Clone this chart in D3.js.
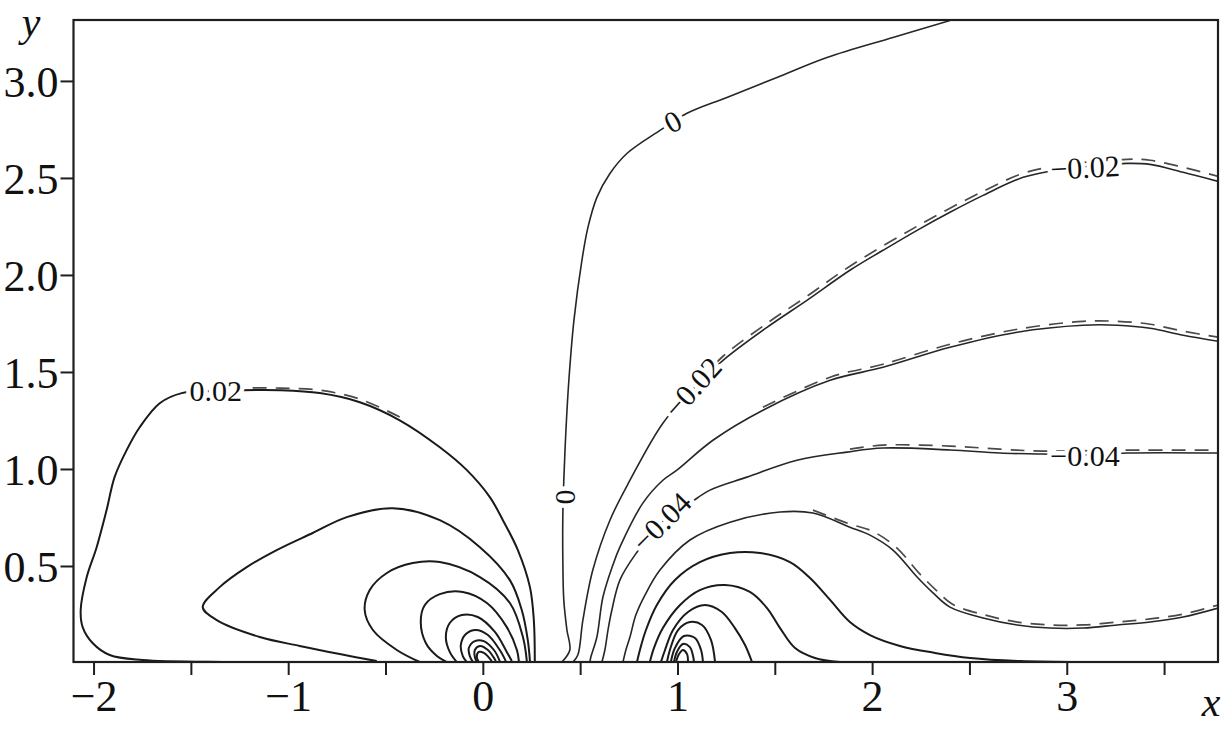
<!DOCTYPE html>
<html><head><meta charset="utf-8">
<script src="https://cdn.jsdelivr.net/npm/d3@7"></script>
<style>body{margin:0;background:#fff} svg{display:block}</style>
</head><body>
<svg id="c" width="1223" height="729"></svg>
<script>
// ---- tick data ----
const xTickValues = [-2,-1.5,-1,-0.5,0,0.5,1,1.5,2,2.5,3,3.5];
const xTickLabels = ["−2","","−1","","0","","1","","2","","3",""];
const yTickValues = [0.5,1,1.5,2,2.5,3];
const yTickLabels = ["0.5","1.0","1.5","2.0","2.5","3.0"];

// ---- positive contours (around x = 0) ----
const posA = [[0.267,0.010],[0.262,0.221],[0.242,0.391],[0.180,0.582],[0.103,0.736],[0.036,0.855],[-0.082,0.994],[-0.221,1.112],[-0.427,1.251],[-0.632,1.344],[-0.838,1.391],[-1.043,1.406],[-1.234,1.406],[-1.372,1.401],[-1.547,1.391],[-1.660,1.339],[-1.763,1.215],[-1.830,1.097],[-1.892,0.958],[-1.933,0.788],[-1.984,0.597],[-2.035,0.443],[-2.066,0.273],[-2.056,0.185],[-2.005,0.103],[-1.917,0.041],[-1.748,0.015],[-1.316,0.005],[-1.146,0.003]];
const posB = [[0.242,0.010],[0.231,0.118],[0.200,0.273],[0.139,0.427],[-0.015,0.597],[-0.221,0.736],[-0.463,0.798],[-0.699,0.752],[-0.874,0.670],[-1.059,0.582],[-1.213,0.494],[-1.352,0.391],[-1.439,0.288],[-1.367,0.221],[-1.146,0.134],[-0.941,0.088],[-0.735,0.046],[-0.545,0.010]];
const posC = [[0.226,0.010],[0.206,0.134],[0.139,0.309],[-0.015,0.443],[-0.221,0.520],[-0.360,0.515],[-0.493,0.464],[-0.581,0.376],[-0.607,0.273],[-0.565,0.170],[-0.442,0.067],[-0.324,0.005]];
const posD = [[0.185,0.010],[0.175,0.067],[0.123,0.185],[0.021,0.309],[-0.103,0.366],[-0.221,0.355],[-0.298,0.299],[-0.319,0.211],[-0.293,0.103],[-0.236,0.036],[-0.185,0.005]];
const posE = [[0.149,0.010],[0.123,0.057],[0.062,0.160],[-0.026,0.237],[-0.108,0.247],[-0.170,0.206],[-0.190,0.134],[-0.170,0.057],[-0.134,0.005]];
const posF = [[0.118,0.010],[0.087,0.067],[0.026,0.144],[-0.036,0.170],[-0.087,0.149],[-0.113,0.093],[-0.103,0.036],[-0.082,0.005]];
const posG = [[0.087,0.010],[0.057,0.067],[0.005,0.113],[-0.041,0.113],[-0.072,0.077],[-0.067,0.036],[-0.051,0.005]];
const posH = [[0.067,0.010],[0.026,0.067],[-0.015,0.088],[-0.041,0.067],[-0.041,0.031],[-0.031,0.005]];
const posI = [[0.046,0.010],[0.005,0.052],[-0.021,0.057],[-0.031,0.031],[-0.021,0.005]];

// ---- zero contour ----
const zero = [[0.406,0.005],[0.447,0.067],[0.432,0.170],[0.416,0.324],[0.411,0.530],[0.411,0.762],[0.416,0.942],[0.427,1.200],[0.442,1.457],[0.468,1.766],[0.509,2.075],[0.540,2.245],[0.586,2.400],[0.653,2.523],[0.740,2.626],[0.910,2.745],[1.049,2.833],[1.254,2.915],[1.511,3.018],[1.768,3.121],[2.107,3.224],[2.400,3.311]];

// ---- negative contours (around x = 1) ----
const negA = [[0.463,0.005],[0.488,0.041],[0.514,0.221],[0.565,0.479],[0.653,0.736],[0.756,0.942],[0.925,1.236],[1.074,1.406],[1.234,1.560],[1.460,1.730],[1.665,1.869],[1.886,2.024],[2.056,2.127],[2.231,2.230],[2.400,2.323],[2.570,2.410],[2.776,2.503],[2.966,2.544],[3.120,2.560],[3.310,2.575],[3.428,2.570],[3.598,2.529],[3.778,2.482]];
const negB = [[0.550,0.005],[0.555,0.031],[0.586,0.134],[0.617,0.340],[0.668,0.505],[0.704,0.597],[0.822,0.824],[0.925,0.942],[0.997,0.994],[1.182,1.148],[1.439,1.303],[1.784,1.457],[2.056,1.524],[2.400,1.627],[2.745,1.705],[3.084,1.741],[3.259,1.741],[3.428,1.725],[3.598,1.689],[3.778,1.658]];
const negC = [[0.612,0.005],[0.627,0.067],[0.643,0.170],[0.663,0.273],[0.704,0.427],[0.781,0.556],[0.920,0.726],[1.064,0.824],[1.167,0.891],[1.357,0.958],[1.614,1.045],[1.871,1.087],[2.056,1.108],[2.400,1.098],[2.657,1.082],[2.878,1.077],[3.094,1.072],[3.310,1.082],[3.778,1.082]];
const negD = [[0.720,0.005],[0.735,0.067],[0.756,0.134],[0.786,0.247],[0.833,0.350],[0.910,0.479],[1.064,0.634],[1.270,0.726],[1.527,0.778],[1.696,0.773],[1.886,0.700],[1.989,0.659],[2.107,0.582],[2.231,0.443],[2.313,0.361],[2.400,0.288],[2.570,0.232],[2.745,0.196],[2.914,0.180],[3.084,0.180],[3.259,0.196],[3.428,0.211],[3.598,0.237],[3.778,0.283]];
const negE = [[0.792,0.005],[0.807,0.067],[0.838,0.170],[0.894,0.299],[0.987,0.428],[1.115,0.520],[1.270,0.567],[1.424,0.567],[1.578,0.520],[1.681,0.438],[1.784,0.325],[1.886,0.211],[1.989,0.144],[2.143,0.088],[2.323,0.052],[2.503,0.026],[2.760,0.010],[3.069,0.005]];
const negF = [[0.858,0.005],[0.879,0.077],[0.925,0.180],[1.013,0.299],[1.115,0.376],[1.244,0.402],[1.372,0.366],[1.460,0.283],[1.527,0.180],[1.604,0.077],[1.706,0.026],[1.835,0.005]];
const negG = [[0.915,0.005],[0.936,0.067],[0.977,0.170],[1.054,0.263],[1.141,0.299],[1.228,0.263],[1.295,0.180],[1.347,0.093],[1.383,0.005]];
const negH = [[0.946,0.005],[0.961,0.067],[1.003,0.170],[1.064,0.211],[1.126,0.196],[1.172,0.119],[1.193,0.005]];
const negI = [[0.966,0.005],[0.987,0.077],[1.033,0.139],[1.090,0.129],[1.121,0.067],[1.131,0.005]];
const negJ = [[0.982,0.005],[0.997,0.057],[1.028,0.098],[1.064,0.082],[1.079,0.041],[1.085,0.005]];
const negK = [[0.992,0.005],[1.008,0.046],[1.028,0.067],[1.049,0.046],[1.054,0.005]];

// ---- dashed (second solution) contours ----
const dashPosA = [[-0.427,1.268],[-0.632,1.360],[-0.838,1.406],[-1.043,1.417],[-1.234,1.417]];
const dashNegA = [[1.115,1.453],[1.234,1.581],[1.460,1.751],[1.665,1.890],[1.886,2.045],[2.231,2.251],[2.570,2.431],[2.776,2.524],[2.966,2.565],[3.310,2.596],[3.428,2.591],[3.598,2.555],[3.778,2.508]];
const dashNegB = [[1.439,1.318],[1.784,1.473],[2.056,1.540],[2.400,1.643],[2.745,1.720],[3.084,1.761],[3.259,1.761],[3.428,1.746],[3.598,1.710],[3.778,1.679]];
const dashNegC = [[1.886,1.102],[2.056,1.123],[2.400,1.118],[2.657,1.102],[2.878,1.092],[3.310,1.097],[3.778,1.097]];
const dashNegD = [[1.696,0.788],[1.886,0.716],[2.000,0.680],[2.123,0.597],[2.246,0.458],[2.328,0.376],[2.411,0.304],[2.580,0.247],[2.745,0.211],[2.914,0.196],[3.084,0.196],[3.259,0.211],[3.428,0.227],[3.598,0.252],[3.778,0.299]];

// ---- contour labels ----
const labelTexts = ["0.02","0","0","−0.02","−0.02","−0.04","−0.04"];
const labelX = [-1.372,0.421,0.977,1.079,3.094,0.920,3.094];
const labelY = [1.401,0.856,2.789,1.418,2.552,0.726,1.067];

// ================= drawing =================
const L = 73.5, R = 1218, T = 20, B = 662;
const svg = d3.select("#c");
const x = d3.scaleLinear().domain([-2.103, 3.777]).range([L, R]);
const y = d3.scaleLinear().domain([0, 3.314]).range([663, T]);
const font = "'Liberation Serif','Times New Roman',serif";

svg.append("defs").append("clipPath").attr("id","clip")
  .append("rect").attr("x",L).attr("y",T).attr("width",R-L).attr("height",B-T);

const line = d3.line().x(d=>x(d[0])).y(d=>y(d[1])).curve(d3.curveCatmullRom.alpha(0.5));
const g = svg.append("g").attr("clip-path","url(#clip)");

const dashed = [dashPosA, dashNegA, dashNegB, dashNegC, dashNegD];
g.selectAll("path.dash").data(dashed).enter().append("path")
  .attr("class","dash").attr("d",line).attr("fill","none")
  .attr("stroke","#4a4a4a").attr("stroke-width",1.7).attr("stroke-dasharray","14,9");

const thick = [posA,posB,posC,posD,posE,posF,posG,posH,posI,negE,negF,negG,negH,negI,negJ,negK];
g.selectAll("path.c").data(thick).enter().append("path")
  .attr("class","c").attr("d",line).attr("fill","none")
  .attr("stroke","#1a1a1a").attr("stroke-width",2.0);
const thin = [zero,negA,negB,negC,negD];
g.selectAll("path.t").data(thin).enter().append("path")
  .attr("class","t").attr("d",line).attr("fill","none")
  .attr("stroke","#262626").attr("stroke-width",1.6);

// labels with white halo to break the lines
const angles = [0,-90,-28,-48,-3,-45,0];
labelTexts.forEach((t,i)=>{
  svg.append("text")
    .attr("transform",`translate(${x(labelX[i])},${y(labelY[i])}) rotate(${angles[i]})`)
    .attr("text-anchor","middle").attr("dy","0.33em")
    .attr("font-family",font).attr("font-size",30)
    .attr("fill","#111").attr("stroke","#fff").attr("stroke-width",9)
    .attr("paint-order","stroke").attr("stroke-linejoin","round")
    .text(t);
});

// frame
svg.append("rect").attr("x",L).attr("y",T).attr("width",R-L).attr("height",B-T)
  .attr("fill","none").attr("stroke","#1e1e1e").attr("stroke-width",2.2);

// axes
const xa = svg.append("g").attr("transform",`translate(0,${B})`)
  .call(d3.axisBottom(x).tickValues(xTickValues).tickSize(13)
        .tickFormat((d,i)=>xTickLabels[i]));
xa.select(".domain").remove();
xa.selectAll("line").attr("stroke","#1e1e1e").attr("stroke-width",2);
xa.selectAll("text").attr("font-family",font).attr("font-size",44).attr("fill","#111")
  .attr("y",49).attr("dy",0);

const ya = svg.append("g").attr("transform",`translate(${L},0)`)
  .call(d3.axisLeft(y).tickValues(yTickValues).tickSize(13)
        .tickFormat((d,i)=>yTickLabels[i]));
ya.select(".domain").remove();
ya.selectAll("line").attr("stroke","#1e1e1e").attr("stroke-width",2);
ya.selectAll("text").attr("font-family",font).attr("font-size",44).attr("fill","#111")
  .attr("x",-15).attr("dy","0.35em");

// axis titles
svg.append("text").attr("x",31).attr("y",36).attr("text-anchor","middle")
  .attr("font-family",font).attr("font-style","italic").attr("font-size",42).attr("fill","#111").text("y");
svg.append("text").attr("x",1211).attr("y",716).attr("text-anchor","middle")
  .attr("font-family",font).attr("font-style","italic").attr("font-size",42).attr("fill","#111").text("x");
</script>
</body></html>
